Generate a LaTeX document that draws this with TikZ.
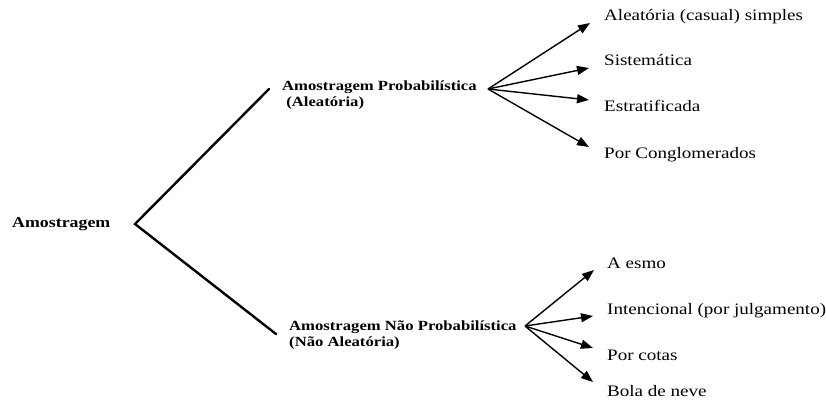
\documentclass[tikz,border=0pt]{standalone}
\usepackage{fontspec}
\setmainfont{Liberation Serif}
\usetikzlibrary{arrows.meta}
\newcommand\hstretch[1]{\scalebox{1.19}[1]{#1}}
\newcommand\twolines[2]{\hstretch{\begin{tabular}[t]{@{}l@{}}#1\\#2\end{tabular}}}
\tikzset{
  trunk/.style={line width=2.4pt, line cap=round},
  branch/.style={line width=1.4pt, -{Triangle[length=12pt,width=9pt]}},
  boldlbl/.style={anchor=base west, inner sep=0pt, font=\fontsize{14}{16}\selectfont\bfseries},
  leaf/.style={anchor=base west, inner sep=0pt, font=\fontsize{16}{19}\selectfont},
}
\begin{document}
\begin{tikzpicture}[x=1pt,y=-1pt]
\useasboundingbox (0,0) rectangle (826,401);
% root
\node[boldlbl, font=\fontsize{15}{17}\selectfont\bfseries] (root) at (12,227.5) {\hstretch{Amostragem}};
\coordinate (v) at (135,224);
\coordinate (ua) at (269,89);
\coordinate (la) at (276,334);
\draw[trunk] (ua) -- (v) -- (la);
% upper group
\node[boldlbl] (prob) at (282,91) {\twolines{Amostragem Probabilística}{\ (Aleatória)}};
\coordinate (uo) at (488,89);
\coordinate (t1) at (590,23);
\coordinate (t2) at (589,68);
\coordinate (t3) at (589,100);
\coordinate (t4) at (589,147);
\node[leaf] (l1) at (604,21) {\hstretch{Aleatória (casual) simples}};
\node[leaf] (l2) at (604,66) {\hstretch{Sistemática}};
\node[leaf] (l3) at (604,112) {\hstretch{Estratificada}};
\node[leaf] (l4) at (604,158) {\hstretch{Por Conglomerados}};
\foreach \t in {t1,t2,t3,t4} \draw[branch] (uo) -- (\t);
% lower group
\node[boldlbl] (nprob) at (289,330) {\twolines{Amostragem Não Probabilística}{(Não Aleatória)}};
\coordinate (lo) at (525,326);
\coordinate (s1) at (594,270);
\coordinate (s2) at (593,316);
\coordinate (s3) at (593,348);
\coordinate (s4) at (593,382);
\node[leaf] (m1) at (607,268) {\hstretch{A esmo}};
\node[leaf] (m2) at (607,314) {\hstretch{Intencional (por julgamento)}};
\node[leaf] (m3) at (607,360) {\hstretch{Por cotas}};
\node[leaf] (m4) at (607,396) {\hstretch{Bola de neve}};
\foreach \t in {s1,s2,s3,s4} \draw[branch] (lo) -- (\t);
\end{tikzpicture}
\end{document}
